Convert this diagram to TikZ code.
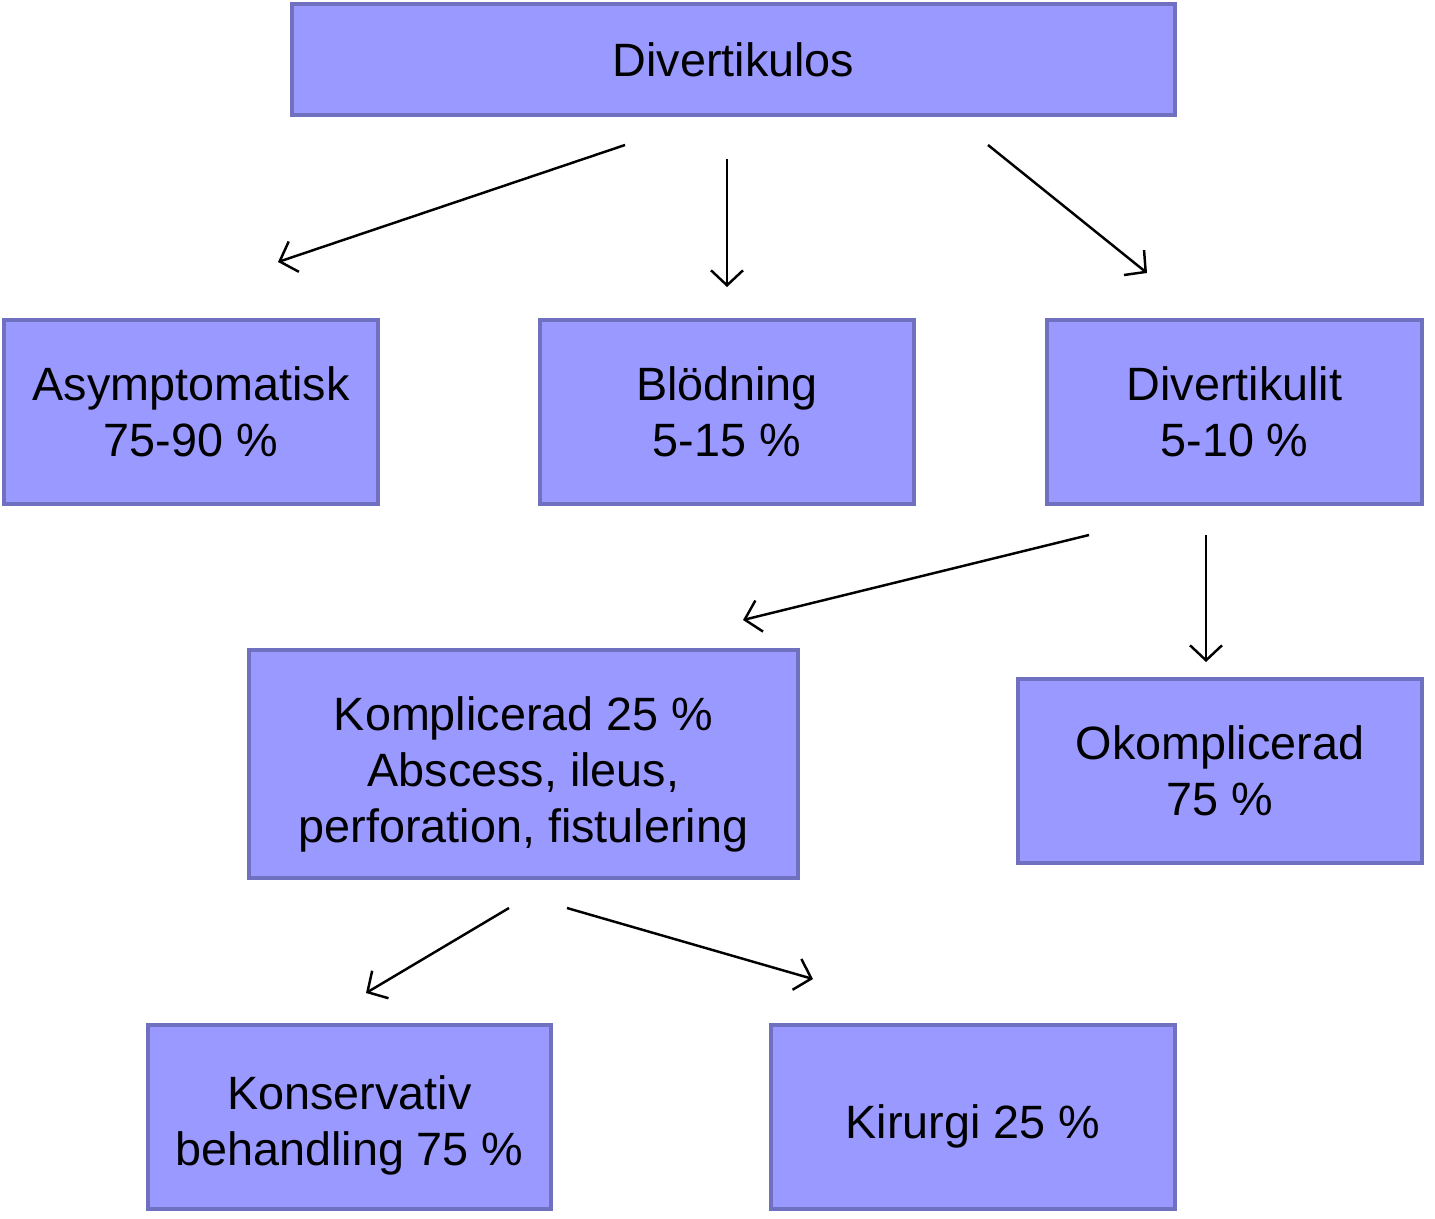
\documentclass[tikz,border=0pt]{standalone}
\usepackage{fontspec}
\setmainfont{Liberation Sans}
\usetikzlibrary{arrows.meta}
\definecolor{boxfill}{HTML}{9999FF}
\definecolor{boxline}{HTML}{7070C0}
\begin{document}
\begin{tikzpicture}[
    box/.style={draw=boxline,fill=boxfill,line width=0.04cm,inner sep=0pt,
        minimum height=1.84cm,align=center,font=\fontsize{13.3}{15.9}\selectfont},
    arr/.style={line width=0.7pt,-{Straight Barb[length=1.5mm,width=3.2mm]}}]

	\useasboundingbox (0,0) rectangle (14.35,-12.18);

	\node (div) at (7.335,-0.595) [box,minimum width=8.83cm,minimum height=1.11cm] {Divertikulos};

	\node (asym) at (1.91,-4.12) [box,minimum width=3.74cm] {Asymptomatisk\\75-90 \%};
	\node (blod) at (7.27,-4.12) [box,minimum width=3.74cm] {Blödning\\5-15 \%};
	\node (lit) at (12.345,-4.12) [box,minimum width=3.75cm] {Divertikulit\\5-10 \%};

	\node (kompl) at (5.235,-7.64) [box,minimum width=5.49cm,minimum height=2.28cm]
	    {\rule{0pt}{0.54cm}Komplicerad 25 \%\\Abscess, ileus,\\perforation, fistulering};
	\node (okompl) at (12.20,-7.71) [box,minimum width=4.04cm] {Okomplicerad\\75 \%};

	\node (kons) at (3.495,-11.17) [box,minimum width=4.03cm] {\rule{0pt}{0.5cm}Konservativ\\behandling 75 \%};
	\node (kir) at (9.73,-11.17) [box,minimum width=4.04cm] {\rule{0pt}{0.52cm}Kirurgi 25 \%};

	% arrow ends, free standing
	\coordinate (d1) at (6.25,-1.45);   \coordinate (asymIn) at (2.78,-2.62);
	\coordinate (d2) at (7.27,-1.59);   \coordinate (blodIn) at (7.27,-2.87);
	\coordinate (d3) at (9.88,-1.45);   \coordinate (litIn) at (11.47,-2.73);
	\coordinate (l1) at (10.89,-5.35);  \coordinate (komplIn) at (7.43,-6.20);
	\coordinate (l2) at (12.06,-5.35);  \coordinate (okomplIn) at (12.06,-6.62);
	\coordinate (k1) at (5.09,-9.08);   \coordinate (konsIn) at (3.66,-9.93);
	\coordinate (k2) at (5.67,-9.08);   \coordinate (kirIn) at (8.13,-9.79);

	\draw[arr] (d1) -- (asymIn);
	\draw[arr] (d2) -- (blodIn);
	\draw[arr] (d3) -- (litIn);
	\draw[arr] (l1) -- (komplIn);
	\draw[arr] (l2) -- (okomplIn);
	\draw[arr] (k1) -- (konsIn);
	\draw[arr] (k2) -- (kirIn);

\end{tikzpicture}
\end{document}
